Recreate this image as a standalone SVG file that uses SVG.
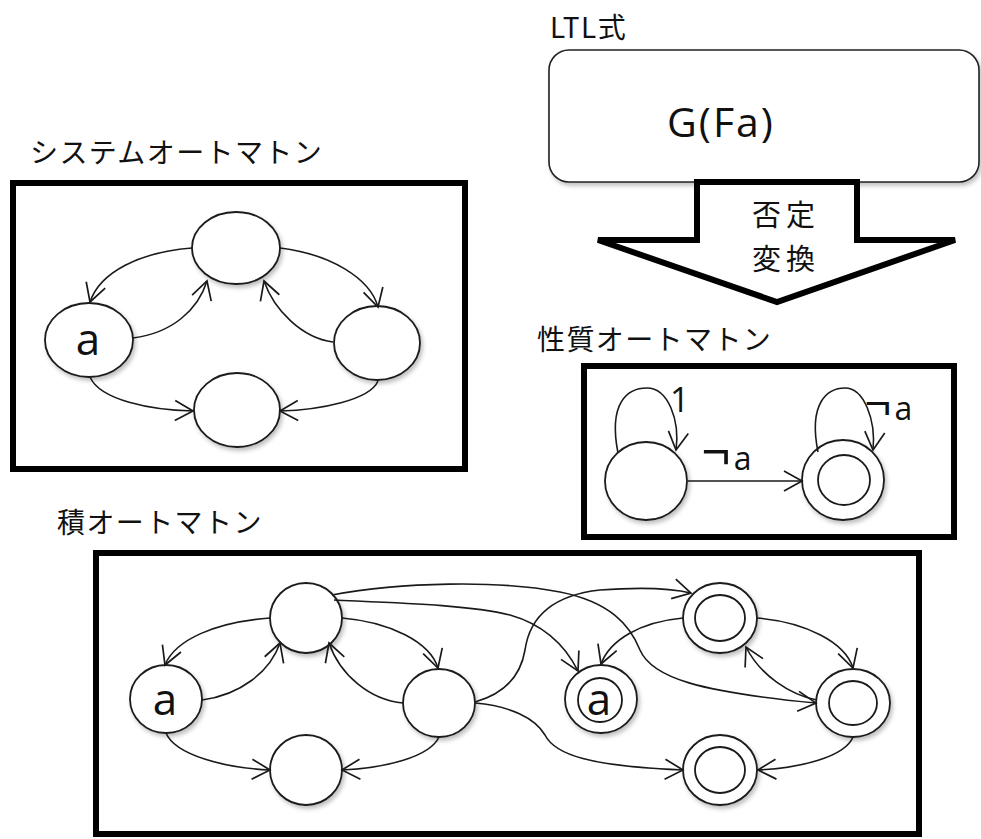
<svg xmlns="http://www.w3.org/2000/svg" width="981" height="839" viewBox="0 0 981 839">
  <style>
    .frame { fill: #fff; stroke: #000; stroke-width: 6; }
    .node { fill: #fff; stroke: #1a1a1a; stroke-width: 1.8; filter: url(#shadow); }
    .inner { fill: none; stroke: #1a1a1a; stroke-width: 1.8; }
    .edge { fill: none; stroke: #1a1a1a; stroke-width: 1.6; marker-end: url(#vhead); }
    .title { font-family: "Noto Sans CJK JP", "Noto Sans", sans-serif; font-size: 28px; fill: #111; letter-spacing: 1.4px; }
    .sym { font-family: "Open Sans", "Noto Sans", sans-serif; fill: #111; }
    .neg { font-family: "Noto Sans CJK JP", sans-serif; fill: #111; }
  </style>
  <defs>
    <marker id="vhead" viewBox="0 0 18 20" refX="17" refY="10" markerWidth="18" markerHeight="20" markerUnits="userSpaceOnUse" orient="auto" overflow="visible">
      <path d="M-1,0 L17,10 L-1,20" fill="none" stroke="#1a1a1a" stroke-width="1.7"/>
    </marker>
    <filter id="shadow" x="-20%" y="-20%" width="150%" height="150%">
      <feDropShadow dx="2" dy="3" stdDeviation="2" flood-color="#000" flood-opacity="0.25"/>
    </filter>
  </defs>

  <!-- LTL formula box and negation arrow -->
  <g id="ltl">
    <text class="title" x="550" y="38" letter-spacing="5">LTL式</text>
    <rect x="549" y="50" width="430" height="132" rx="20" fill="#fff" stroke="#222" stroke-width="1.6" filter="url(#shadow)"/>
    <text class="sym" x="667" y="137" font-size="41" letter-spacing="2">G(Fa)</text>
  </g>
  <g id="negate">
    <polygon points="697,182 857,182 857,240 955,240 777,302 598,240 697,240" fill="#fff" stroke="#000" stroke-width="6"/>
    <text class="neg" font-size="29" letter-spacing="5" text-anchor="middle"><tspan x="786" y="226">否定</tspan><tspan x="786" y="270">変換</tspan></text>
  </g>

  <!-- system automaton -->
  <g id="system">
    <text class="title" x="30" y="163">システムオートマトン</text>
    <rect class="frame" x="13" y="183" width="452" height="286"/>
    <g id="s-top"><ellipse class="node" cx="236" cy="248" rx="44" ry="36"/></g>
    <g id="s-left"><ellipse class="node" cx="89" cy="340" rx="44" ry="37"/>
      <text class="sym" x="88" y="355" font-size="44" text-anchor="middle">a</text></g>
    <g id="s-right"><ellipse class="node" cx="377" cy="343" rx="43" ry="37"/></g>
    <g id="s-bottom"><ellipse class="node" cx="237" cy="410" rx="43" ry="37"/></g>
    <g id="s-edges">
      <path class="edge" d="M192,248 C140,252 100,272 90,302"/>
      <path class="edge" d="M133,338 C172,333 198,310 207,281"/>
      <path class="edge" d="M280,248 C330,254 370,278 378,307"/>
      <path class="edge" d="M333,342 C302,338 274,310 264,281"/>
      <path class="edge" d="M90,377 C100,400 150,410 193,411"/>
      <path class="edge" d="M378,381 C370,400 320,410 280,411"/>
    </g>
  </g>

  <!-- property automaton -->
  <g id="property">
    <text class="title" x="537" y="350">性質オートマトン</text>
    <rect class="frame" x="584" y="366" width="370" height="171"/>
    <g id="p-init"><ellipse class="node" cx="646" cy="481" rx="41" ry="39"/></g>
    <g id="p-accept"><ellipse class="node" cx="843" cy="480" rx="41" ry="40"/>
      <ellipse class="inner" cx="844" cy="480" rx="26" ry="25"/></g>
    <g id="p-edges">
      <path class="edge" d="M618,453 C608,402 628,388 647,388 C668,388 680,420 676,450"/>
      <path class="edge" d="M818,452 C808,402 828,388 845,388 C864,388 876,420 873,450"/>
      <path class="edge" d="M688,481 L802,481"/>
    </g>
    <text class="sym" x="670" y="412" font-size="34">1</text>
    <text x="702" y="470"><tspan class="neg" font-size="50">¬</tspan><tspan class="sym" font-size="32" dx="4">a</tspan></text>
    <text x="865" y="420"><tspan class="neg" font-size="46">¬</tspan><tspan class="sym" font-size="32" dx="4">a</tspan></text>
  </g>

  <!-- product automaton -->
  <g id="product">
    <text class="title" x="57" y="533">積オートマトン</text>
    <rect class="frame" x="96" y="553" width="823" height="281"/>
    <g id="x-top"><ellipse class="node" cx="306" cy="618" rx="36" ry="35"/></g>
    <g id="x-left"><ellipse class="node" cx="166" cy="699" rx="36" ry="34"/>
      <text class="sym" x="165" y="715" font-size="44" text-anchor="middle">a</text></g>
    <g id="x-right"><ellipse class="node" cx="439" cy="703" rx="36" ry="34"/></g>
    <g id="x-bottom"><ellipse class="node" cx="306" cy="770" rx="36" ry="35"/></g>
    <g id="y-top"><ellipse class="node" cx="720" cy="618" rx="37" ry="35"/>
      <ellipse class="inner" cx="720" cy="618" rx="25" ry="23"/></g>
    <g id="y-left"><ellipse class="node" cx="601" cy="699" rx="36" ry="34"/>
      <ellipse class="inner" cx="600" cy="700" rx="22" ry="22"/>
      <text class="sym" x="599" y="715" font-size="44" text-anchor="middle">a</text></g>
    <g id="y-right"><ellipse class="node" cx="853" cy="703" rx="37" ry="34"/>
      <ellipse class="inner" cx="853" cy="703" rx="24" ry="22"/></g>
    <g id="y-bottom"><ellipse class="node" cx="720" cy="770" rx="37" ry="35"/>
      <ellipse class="inner" cx="720" cy="770" rx="25" ry="23"/></g>
    <g id="x-edges">
      <path class="edge" d="M270,618 C215,622 175,640 165,665"/>
      <path class="edge" d="M202,700 C240,695 270,672 280,643"/>
      <path class="edge" d="M342,618 C390,622 430,642 438,668"/>
      <path class="edge" d="M403,703 C370,700 340,675 329,643"/>
      <path class="edge" d="M166,733 C175,755 225,768 270,770"/>
      <path class="edge" d="M439,737 C430,757 385,768 342,770"/>
      <path class="edge" d="M332,595 C400,582 500,580 560,592 C610,602 630,625 640,650 C652,678 700,692 816,703"/>
      <path class="edge" d="M334,600 C400,603 470,605 510,615 C545,625 565,645 578,671"/>
      <path class="edge" d="M475,702 C500,695 520,680 525,650 C530,615 555,595 600,590 C640,587 670,588 691,593"/>
      <path class="edge" d="M475,703 C510,706 535,718 545,735 C555,755 590,766 683,770"/>
      <path class="edge" d="M683,618 C640,622 610,640 601,664"/>
      <path class="edge" d="M757,618 C805,622 845,642 853,668"/>
      <path class="edge" d="M817,700 C790,695 760,675 746,647"/>
      <path class="edge" d="M853,737 C845,757 800,768 758,770"/>
    </g>
  </g>
</svg>
